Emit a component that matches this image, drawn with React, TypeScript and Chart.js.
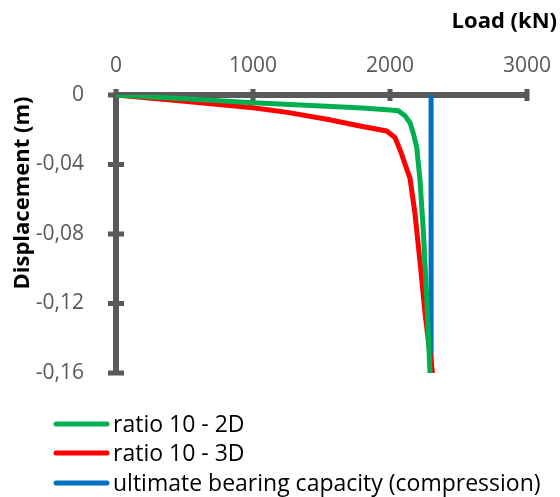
import React, { useEffect, useRef } from "react";
import { Chart, registerables } from "chart.js";

Chart.register(...registerables);

const loadGreen = [0, 500, 1000, 1500, 1800, 2000, 2060, 2110, 2146, 2170, 2195, 2219, 2243, 2268, 2292];
const dispGreen = [0, -0.0022, -0.0044, -0.0063, -0.0075, -0.0086, -0.009, -0.012, -0.016, -0.022, -0.03, -0.049, -0.078, -0.117, -0.16];

const loadRed = [0, 500, 1000, 1250, 1540, 1780, 1976, 2036, 2060, 2085, 2115, 2146, 2182, 2219, 2255, 2290, 2311];
const dispRed = [0, -0.0036, -0.0073, -0.01, -0.014, -0.0178, -0.0207, -0.0245, -0.029, -0.034, -0.041, -0.048, -0.068, -0.096, -0.125, -0.148, -0.16];

const loadUlt = [2300, 2300];
const dispUlt = [0, -0.16];

const seriesLabels = ["ratio 10 - 2D", "ratio 10 - 3D", "ultimate bearing capacity (compression)"];
const seriesColors = ["#00B050", "#FF0000", "#0070C0"];

const xTitle = "Load (kN)";
const yTitle = "Displacement (m)";
const xTicks = [0, 1000, 2000, 3000];
const yTicks = [0, -0.04, -0.08, -0.12, -0.16];

const FONT = "'Open Sans', sans-serif";
const AXIS = "#595959";

const zip = (xs: number[], ys: number[]) => xs.map((x, i) => ({ x, y: ys[i] }));

const decorPlugin = {
  id: "decor",
  beforeDatasetsDraw(chart: any) {
    const { ctx, chartArea } = chart;
    const xs = chart.scales.x;
    const ys = chart.scales.y;
    ctx.save();
    ctx.strokeStyle = AXIS;
    ctx.lineCap = "butt";
    ctx.lineWidth = 6;
    ctx.beginPath();
    ctx.moveTo(chartArea.left, chartArea.top);
    ctx.lineTo(chartArea.right, chartArea.top);
    ctx.moveTo(chartArea.left, chartArea.top);
    ctx.lineTo(chartArea.left, chartArea.bottom);
    ctx.stroke();
    ctx.lineWidth = 5;
    ctx.beginPath();
    xTicks.forEach((v) => {
      const px = xs.getPixelForValue(v);
      ctx.moveTo(px, chartArea.top - 6);
      ctx.lineTo(px, chartArea.top + 6);
    });
    yTicks.forEach((v) => {
      const py = ys.getPixelForValue(v);
      ctx.moveTo(chartArea.left - 8, py);
      ctx.lineTo(chartArea.left + 8, py);
    });
    ctx.stroke();
    ctx.restore();
  },
  afterDraw(chart: any) {
    const { ctx } = chart;
    ctx.save();
    ctx.fillStyle = "#000000";
    ctx.textBaseline = "alphabetic";
    ctx.font = `bold 22px ${FONT}`;
    ctx.textAlign = "right";
    ctx.fillText(xTitle, 557, 28);
    ctx.save();
    ctx.translate(29, 193);
    ctx.rotate(-Math.PI / 2);
    ctx.textAlign = "center";
    ctx.fillText(yTitle, 0, 0);
    ctx.restore();
    const rows = [424, 453, 483];
    chart.data.datasets.forEach((ds: any, i: number) => {
      const y = rows[i];
      ctx.strokeStyle = ds.borderColor;
      ctx.lineWidth = 5;
      ctx.lineCap = "round";
      ctx.beginPath();
      ctx.moveTo(56, y);
      ctx.lineTo(107, y);
      ctx.stroke();
      ctx.fillStyle = "#000000";
      ctx.font = `23px ${FONT}`;
      ctx.textAlign = "left";
      ctx.fillText(ds.label, 113, y + 8);
    });
    ctx.restore();
  },
};

export default function App() {
  const ref = useRef<HTMLCanvasElement | null>(null);
  useEffect(() => {
    if (!ref.current) return;
    const mk = (i: number, data: any[]) => ({
      label: seriesLabels[i],
      data,
      borderColor: seriesColors[i],
      backgroundColor: seriesColors[i],
      borderWidth: 5,
      pointRadius: 0,
      tension: 0,
      fill: false,
      borderCapStyle: "butt" as const,
      borderJoinStyle: "round" as const,
    });
    const chart = new Chart(ref.current, {
      type: "line",
      data: {
        datasets: [
          mk(0, zip(loadGreen, dispGreen)),
          mk(1, zip(loadRed, dispRed)),
          mk(2, zip(loadUlt, dispUlt)),
        ],
      },
      options: {
        animation: false,
        responsive: false,
        maintainAspectRatio: false,
        layout: { padding: { left: 0, right: 33, top: 0, bottom: 124 } },
        plugins: { legend: { display: false }, tooltip: { enabled: false }, title: { display: false } },
        scales: {
          x: {
            type: "linear",
            position: "top",
            min: 0,
            max: 3000,
            afterBuildTicks: (s: any) => {
              s.ticks = xTicks.map((v) => ({ value: v }));
            },
            afterFit: (s: any) => {
              s.height = 95;
              s.paddingLeft = 0;
              s.paddingRight = 0;
            },
            grid: { display: false },
            border: { display: false },
            ticks: {
              color: AXIS,
              font: { family: FONT, size: 21 },
              padding: 8,
              maxRotation: 0,
              callback: (v: any) => String(v),
            },
          },
          y: {
            type: "linear",
            min: -0.16,
            max: 0,
            afterBuildTicks: (s: any) => {
              s.ticks = yTicks.map((v) => ({ value: v }));
            },
            afterFit: (s: any) => {
              s.width = 116;
              s.paddingTop = 0;
              s.paddingBottom = 0;
            },
            grid: { display: false },
            border: { display: false },
            ticks: {
              color: AXIS,
              font: { family: FONT, size: 21 },
              padding: 24,
              callback: (v: any) => (Math.abs(Number(v)) < 1e-9 ? "0" : Number(v).toFixed(2).replace(".", ",")),
            },
          },
        },
      },
      plugins: [decorPlugin],
    });
    return () => chart.destroy();
  }, []);
  return (
    <div style={{ position: "absolute", left: 0, top: 0, width: 560, height: 497 }}>
      <canvas ref={ref} width={560} height={497} style={{ width: 560, height: 497 }} />
    </div>
  );
}
